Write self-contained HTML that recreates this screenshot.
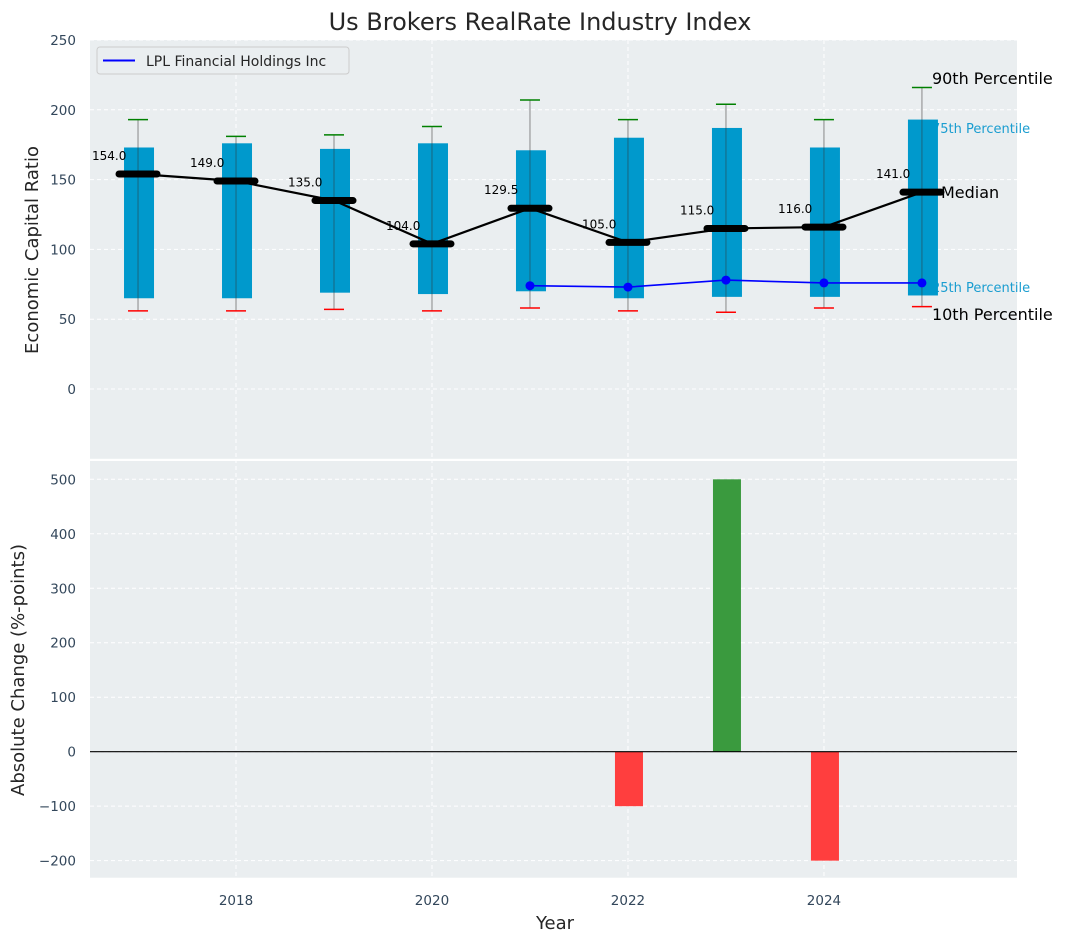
<!DOCTYPE html>
<html><head><meta charset="utf-8"><style>
body{margin:0;background:#fff;}
svg{display:block;font-family:"DejaVu Sans","Liberation Sans",sans-serif;}
</style></head><body>
<svg id="chart" width="1067" height="942" viewBox="0 0 1067 942" xmlns="http://www.w3.org/2000/svg"></svg>
<script>
const years=[2017,2018,2019,2020,2021,2022,2023,2024,2025];
const p90=[193,181,182,188,207,193,204,193,216];
const p75=[173,176,172,176,171,180,187,173,193];
const median=[154,149,135,104,129.5,105,115,116,141];
const p25=[65,65,69,68,70,65,66,66,67];
const p10=[56,56,57,56,58,56,55,58,59];
const lplYears=[2021,2022,2023,2024,2025];
const lplValues=[74,73,78,76,76];
const changeYears=[2022,2023,2024];
const changeValues=[-100,500,-200];
const xTicks=[2018,2020,2022,2024];
const yTopTicks=[0,50,100,150,200,250];
const yBotTicks=[-200,-100,0,100,200,300,400,500];

const NS="http://www.w3.org/2000/svg";
const svg=document.getElementById('chart');
function el(tag,attrs,parent,text){const e=document.createElementNS(NS,tag);for(const k in attrs)e.setAttribute(k,attrs[k]);if(text!==undefined)e.textContent=text;(parent||svg).appendChild(e);return e;}
const L=90,R=1017;
const x=v=>L+(v-2016.51)*(R-L)/(2025.97-2016.51);
const T0=40,T1=458.8;
const yT=v=>T1-(v+50)*(T1-T0)/300;
const B0=459,B1=877.7;
const yB=v=>751.7-v*0.5448;
const bw=30;

let t=el('text',{x:540,y:30,'text-anchor':'middle','font-size':24,fill:'#262626'},svg,'Us Brokers RealRate Industry Index');


let bg=el('rect',{x:L,y:T0,width:R-L,height:T1-T0,fill:'#eaeef0'});

let bg2=el('rect',{x:L,y:B0+2,width:R-L,height:B1-B0-2,fill:'#eaeef0'});


xTicks.forEach(v=>{
  el('line',{x1:x(v),x2:x(v),y1:T0,y2:T1,stroke:'#fff','stroke-dasharray':'4,3','stroke-width':1});
  el('line',{x1:x(v),x2:x(v),y1:B0,y2:B1,stroke:'#fff','stroke-dasharray':'4,3','stroke-width':1});
  let tl=el('text',{x:x(v),y:905,'text-anchor':'middle','font-size':13.5,fill:'#33475b'},svg,String(v));
  
});
yTopTicks.forEach(v=>{
  el('line',{x1:L,x2:R,y1:yT(v),y2:yT(v),stroke:'#fff','stroke-dasharray':'4,3','stroke-width':1});
  let tl=el('text',{x:76,y:yT(v)+5,'text-anchor':'end','font-size':13.5,fill:'#33475b'},svg,String(v));
  
});
yBotTicks.forEach(v=>{
  el('line',{x1:L,x2:R,y1:yB(v),y2:yB(v),stroke:'#fff','stroke-dasharray':'4,3','stroke-width':1});
  let tl=el('text',{x:76,y:yB(v)+5,'text-anchor':'end','font-size':13.5,fill:'#33475b'},svg,String(v).replace('-','\u2212'));
  
});

const last=years.length-1;
const lx=x(years[last])+10;
[['90th Percentile',p90[last]+6,16,'#000','label-90th'],['75th Percentile',p75[last]-6,13,'#1a9dd0','label-75th'],['25th Percentile',p25[last]+6,13,'#1a9dd0','label-25th'],['10th Percentile',p10[last]-6,16,'#000','label-10th']].forEach(a=>{
  let e=el('text',{x:lx,y:yT(a[1])+5,'font-size':a[2],fill:a[3]},svg,a[0]);
  
});

years.forEach((yr,i)=>{
  const cx=x(yr);
  let w=el('line',{x1:cx,x2:cx,y1:yT(p90[i]),y2:yT(p10[i]),stroke:'#888','stroke-width':1});
  
  let b=el('rect',{x:cx-bw/2+1,y:yT(p75[i]),width:bw,height:yT(p25[i])-yT(p75[i]),fill:'#0099cc'});
  
  el('line',{x1:cx,x2:cx,y1:yT(p75[i]),y2:yT(p25[i]),stroke:'#333','stroke-width':1,opacity:0.5});
  let h=el('line',{x1:cx-10,x2:cx+10,y1:yT(p90[i]),y2:yT(p90[i]),stroke:'green','stroke-width':1.5});
  
  let lo=el('line',{x1:cx-10,x2:cx+10,y1:yT(p10[i]),y2:yT(p10[i]),stroke:'red','stroke-width':1.5});
  
});
let mp=el('polyline',{points:years.map((yr,i)=>x(yr)+','+yT(median[i])).join(' '),fill:'none',stroke:'#000','stroke-width':2.2});

years.forEach((yr,i)=>{
  const cx=x(yr);
  let m=el('line',{x1:cx-19,x2:cx+19,y1:yT(median[i]),y2:yT(median[i]),stroke:'#000','stroke-width':7,'stroke-linecap':'round'});
  
  let lb=el('text',{x:cx-46,y:yT(median[i])-14,'font-size':12,fill:'#000'},svg,median[i].toFixed(1));
  
});
let ml=el('text',{x:lx+9,y:yT(median[last])+6,'font-size':16,fill:'#000'},svg,'Median');


let lp=el('polyline',{points:lplYears.map((yr,i)=>x(yr)+','+yT(lplValues[i])).join(' '),fill:'none',stroke:'#0000ff','stroke-width':1.6});

lplYears.forEach((yr,i)=>{
  let c=el('circle',{cx:x(yr),cy:yT(lplValues[i]),r:4.5,fill:'#0000ff'});
  
});

let lg=el('g',{});

el('rect',{x:97,y:47,width:252,height:27,rx:3,fill:'#eaeef0',stroke:'#ccc'},lg);
el('line',{x1:103,x2:135,y1:60.5,y2:60.5,stroke:'#0000ff','stroke-width':2},lg);
el('text',{x:146,y:66,'font-size':14,fill:'#262626'},lg,'LPL Financial Holdings Inc');

changeYears.forEach((yr,i)=>{
  const v=changeValues[i];const cx=x(yr);
  let b=el('rect',{x:cx-13,y:Math.min(yB(0),yB(v)),width:28,height:Math.abs(yB(v)-yB(0)),fill:v>=0?'#3a9a3e':'#ff3e3e'});
  
});
let zl=el('line',{x1:L,x2:R,y1:yB(0),y2:yB(0),stroke:'#000','stroke-width':1.2});


let yt=el('text',{x:0,y:0,'font-size':18,fill:'#262626','text-anchor':'middle',transform:'translate(38,250) rotate(-90)'},svg,'Economic Capital Ratio');

let yb=el('text',{x:0,y:0,'font-size':18,fill:'#262626','text-anchor':'middle',transform:'translate(24,670) rotate(-90)'},svg,'Absolute Change (%-points)');

let xt=el('text',{x:555,y:929,'font-size':18,fill:'#262626','text-anchor':'middle'},svg,'Year');

</script>
</body></html>
